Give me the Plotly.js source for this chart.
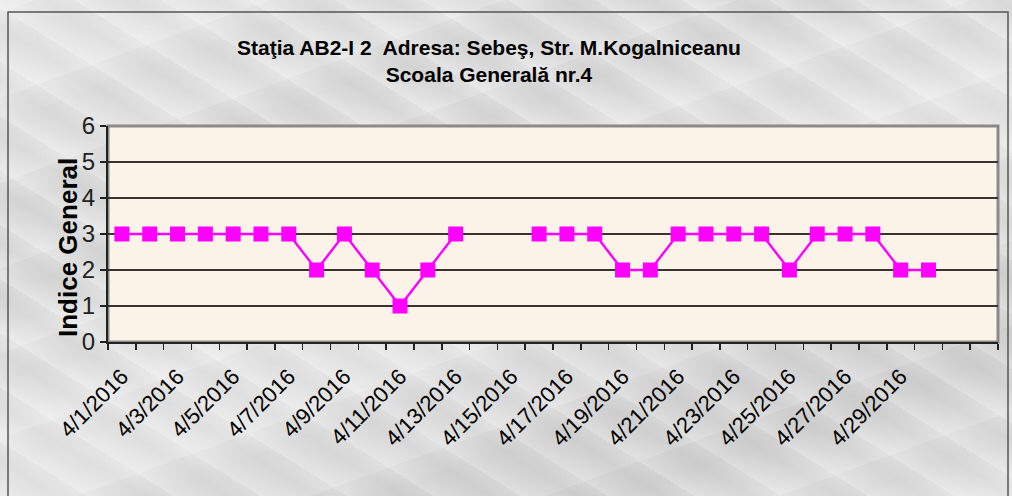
<!DOCTYPE html>
<html>
<head>
<meta charset="utf-8">
<script src="https://cdn.plot.ly/plotly-3.0.1.min.js"></script>
<style>
html,body{margin:0;padding:0;}
body{
  width:1012px;height:496px;overflow:hidden;
  background:
    linear-gradient(160deg, rgba(255,255,255,0.35) 0%, rgba(255,255,255,0) 30%, rgba(255,255,255,0.3) 55%, rgba(0,0,0,0.04) 80%, rgba(255,255,255,0.25) 100%),
    repeating-linear-gradient(32deg, rgba(255,255,255,0.25) 0px, rgba(255,255,255,0) 14px, rgba(120,120,120,0.08) 30px, rgba(255,255,255,0) 46px),
    repeating-linear-gradient(-20deg, rgba(255,255,255,0.2) 0px, rgba(255,255,255,0) 25px, rgba(140,140,140,0.07) 55px, rgba(255,255,255,0) 80px),
    #dddddd;
}
#chart{width:1012px;height:496px;}
</style>
</head>
<body>
<div id="chart"></div>
<script>
// Categories (days)
const dates = ['4/1/2016','4/2/2016','4/3/2016','4/4/2016','4/5/2016','4/6/2016','4/7/2016','4/8/2016','4/9/2016','4/10/2016',
  '4/11/2016','4/12/2016','4/13/2016','4/14/2016','4/15/2016','4/16/2016','4/17/2016','4/18/2016','4/19/2016','4/20/2016',
  '4/21/2016','4/22/2016','4/23/2016','4/24/2016','4/25/2016','4/26/2016','4/27/2016','4/28/2016','4/29/2016','4/30/2016'];
// Empty slots on the right of the category axis
const padCategories = ['5/1/2016','5/2/2016'];
// Series: Indice General
const indiceGeneral = [3,3,3,3,3,3,3,2,3,2,1,2,3,null,null,3,3,3,2,2,3,3,3,3,2,3,3,3,2,2];
// Tick labels shown on the x axis
const tickLabels = ['4/1/2016','4/3/2016','4/5/2016','4/7/2016','4/9/2016','4/11/2016','4/13/2016','4/15/2016',
  '4/17/2016','4/19/2016','4/21/2016','4/23/2016','4/25/2016','4/27/2016','4/29/2016'];
const yTicks = [0,1,2,3,4,5,6];

const allCats = dates.concat(padCategories);
const tickText = allCats.map(c => tickLabels.includes(c) ? c : '');

// pixel -> paper helpers (plot area: x 108..998, y 126..342)
const L = 108, R = 998, T = 126, B = 342;
const px = p => (p - L) / (R - L);
const py = p => (B - p) / (B - T);

const trace = {
  x: dates, y: indiceGeneral,
  type: 'scatter', mode: 'lines+markers',
  line: {color: '#ff00ff', width: 2.4},
  marker: {symbol: 'square', size: 15, color: '#ff00ff', line: {width: 0}},
  connectgaps: false,
  hoverinfo: 'x+y', showlegend: false
};

const layout = {
  width: 1012, height: 496,
  margin: {l: L, r: 1012 - R, t: T, b: 496 - B, pad: 0},
  paper_bgcolor: 'rgba(0,0,0,0)',
  plot_bgcolor: '#fcf3e8',
  font: {family: 'Liberation Sans, Arial, sans-serif', color: '#000'},
  title: {
    text: '<b>Staţia AB2-I 2  Adresa: Sebeş, Str. M.Kogalniceanu</b><br><b>Scoala Generală nr.4</b>',
    font: {size: 21, color: '#000', family: 'Liberation Sans, Arial, sans-serif'},
    xref: 'container', x: 489 / 1012, xanchor: 'center',
    yref: 'container', y: 1 - 55 / 496, yanchor: 'middle'
  },
  xaxis: {
    type: 'category',
    categoryorder: 'array', categoryarray: allCats,
    range: [-0.5, allCats.length - 0.5],
    tickmode: 'array', tickvals: allCats, ticktext: tickText,
    tickson: 'boundaries',
    ticks: 'outside', ticklen: 6, tickwidth: 1.5, tickcolor: '#222',
    tickangle: -45,
    ticklabelstandoff: 11,
    tickfont: {size: 22, color: '#000'},
    showgrid: false, zeroline: false,
    showline: true, linecolor: '#222', linewidth: 2,
    automargin: false, fixedrange: true
  },
  yaxis: {
    range: [0, 6],
    tickmode: 'array', tickvals: yTicks, ticktext: yTicks.map(String),
    ticks: 'outside', ticklen: 6, tickwidth: 1.5, tickcolor: '#222',
    tickfont: {size: 24, color: '#222'},
    showgrid: true, gridcolor: '#3a3330', gridwidth: 2,
    zeroline: false,
    showline: true, linecolor: '#222', linewidth: 2,
    automargin: false, fixedrange: true
  },
  annotations: [{
    text: '<b>Indice General</b>',
    textangle: -90,
    xref: 'paper', yref: 'paper',
    x: px(68), y: py(248), xanchor: 'center', yanchor: 'middle',
    showarrow: false,
    font: {size: 26, color: '#000'}
  }],
  shapes: [
    // outer chart frame
    {type: 'rect', xref: 'paper', yref: 'paper', layer: 'below',
     x0: px(8), x1: px(1008), y0: py(520), y1: py(12),
     line: {color: '#555', width: 1.5}, fillcolor: 'rgba(0,0,0,0)'},
    // plot-area border (top & right gray)
    {type: 'rect', xref: 'paper', yref: 'paper', layer: 'below',
     x0: 0, x1: 1, y0: 0, y1: 1,
     line: {color: '#8a8a8a', width: 3}, fillcolor: 'rgba(0,0,0,0)'}
  ]
};

Plotly.newPlot('chart', [trace], layout, {staticPlot: true, displayModeBar: false});
</script>
</body>
</html>
